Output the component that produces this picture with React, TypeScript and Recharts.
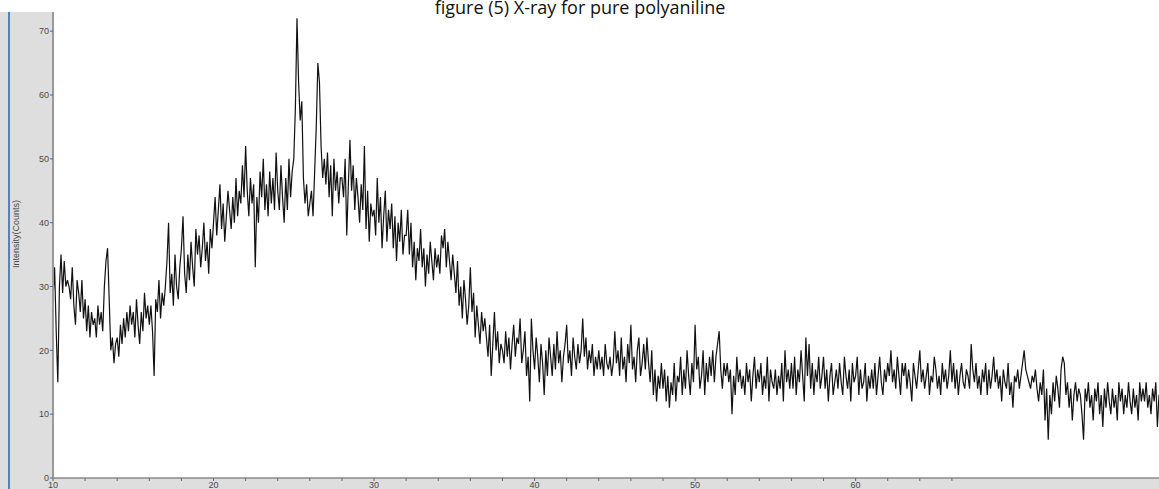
import { LineChart, Line, XAxis, YAxis } from "recharts";

// diffraction angle runs 10.0 .. 78.9 deg in 0.1 deg steps, one row per degree
const angleStart = 10;
const angleStep = 0.1;

const counts10to29 = [
  28, 33, 23, 15, 30, 35, 29, 34, 30, 31,
  30, 28, 33, 27, 24, 31, 29, 26, 31, 25,
  28, 23, 27, 22, 26, 24, 25, 22, 27, 24,
  26, 23, 30, 34, 36, 28, 20, 22, 18, 21,
  22, 19, 24, 21, 25, 22, 26, 23, 27, 24,
  26, 22, 28, 24, 21, 26, 23, 29, 25, 27,
  24, 27, 23, 16, 28, 26, 31, 25, 29, 27,
  30, 34, 40, 29, 32, 27, 35, 30, 28, 33,
  36, 41, 32, 29, 35, 31, 37, 33, 30, 39,
  35, 38, 33, 36, 40, 34, 37, 32, 39, 36,
  40, 44, 38, 42, 46, 39, 43, 37, 41, 45,
  42, 39, 44, 40, 47, 41, 45, 43, 49, 44,
  52, 45, 41, 47, 43, 46, 33, 44, 40, 48,
  44, 50, 42, 46, 41, 48, 43, 47, 42, 51,
  45, 42, 49, 44, 40, 47, 42, 50, 44, 48,
  50, 58, 72, 62, 56, 59, 47, 43, 46, 41,
  43, 45, 41, 48, 55, 65, 62, 52, 47, 50,
  46, 51, 44, 49, 41, 50, 45, 48, 43, 47,
  47, 44, 50, 38, 46, 53, 45, 49, 42, 47,
  44, 40, 46, 42, 52, 39, 45, 37, 43, 41,
];

const counts30to49 = [
  42, 38, 47, 40, 44, 36, 41, 45, 37, 42,
  39, 43, 36, 41, 34, 40, 37, 42, 35, 38,
  38, 42, 35, 40, 33, 37, 31, 36, 34, 39,
  33, 36, 30, 35, 32, 37, 34, 31, 36, 33,
  35, 32, 38, 36, 39, 33, 37, 34, 31, 35,
  32, 29, 34, 27, 30, 25, 31, 28, 24, 27,
  33, 26, 29, 22, 27, 24, 21, 26, 23, 25,
  22, 19, 24, 16, 21, 26, 20, 23, 18, 21,
  20, 18, 23, 19, 22, 17, 21, 24, 19, 22,
  21, 25, 18, 20, 23, 16, 19, 12, 25, 20,
  17, 22, 19, 15, 21, 18, 13, 20, 16, 22,
  19, 16, 21, 17, 23, 18, 20, 15, 19, 21,
  24, 18, 20, 16, 22, 19, 17, 21, 18, 20,
  25, 19, 22, 17, 20, 18, 21, 16, 19, 17,
  20, 17, 19, 16, 21, 18, 17, 19, 16, 18,
  23, 18, 20, 16, 22, 17, 19, 15, 21, 18,
  24, 17, 19, 15, 20, 22, 16, 18, 21, 17,
  22, 18, 15, 20, 13, 17, 12, 16, 14, 18,
  14, 17, 12, 16, 11, 15, 13, 18, 12, 16,
  15, 19, 13, 17, 14, 20, 16, 13, 18, 15,
];

const counts50to78 = [
  24, 17, 19, 14, 16, 20, 13, 18, 15, 19,
  16, 20, 15, 19, 21, 23, 17, 14, 18, 16,
  18, 15, 17, 10, 16, 13, 19, 15, 17, 14,
  16, 13, 18, 15, 17, 12, 16, 19, 14, 17,
  15, 18, 13, 16, 14, 19, 12, 17, 15, 14,
  17, 13, 16, 14, 18, 12, 20, 15, 17, 14,
  18, 14, 19, 13, 17, 15, 20, 16, 12, 22,
  16, 21, 14, 18, 13, 17, 15, 19, 14, 16,
  19, 14, 17, 12, 16, 18, 13, 15, 17, 14,
  18, 15, 13, 19, 16, 14, 17, 12, 18, 15,
  16, 19, 13, 17, 14, 15, 18, 12, 16, 14,
  17, 14, 18, 13, 16, 19, 15, 13, 17, 15,
  18, 16, 20, 15, 17, 14, 19, 16, 13, 18,
  16, 18, 14, 17, 15, 12, 18, 16, 14, 17,
  20, 15, 17, 14, 16, 18, 13, 16, 15, 19,
  17, 14, 16, 13, 18, 15, 17, 14, 16, 20,
  15, 18, 14, 17, 13, 16, 18, 15, 14, 17,
  16, 14, 21, 17, 15, 18, 14, 16, 13, 17,
  15, 18, 13, 17, 14, 16, 19, 15, 17, 14,
  16, 12, 17, 15, 14, 18, 13, 15, 11, 16,
  15, 17, 14, 16, 18, 20, 17, 16, 15, 14,
  16, 15, 17, 14, 12, 15, 13, 17, 9, 14,
  6, 13, 10, 15, 12, 16, 14, 11, 17, 19,
  18, 13, 15, 11, 14, 9, 13, 15, 12, 14,
  13, 10, 6, 14, 12, 15, 11, 13, 9, 14,
  12, 15, 10, 13, 8, 14, 11, 15, 12, 10,
  14, 11, 13, 9, 15, 12, 14, 10, 13, 11,
  15, 12, 10, 14, 11, 13, 9, 15, 12, 14,
  12, 15, 11, 13, 10, 14, 12, 15, 8, 13,
];

const xTicks = [10, 12, 14, 16, 18, 20, 22, 24, 26, 28, 30, 32, 34, 36, 38, 40, 42, 44, 46, 48, 50, 52, 54, 56, 58, 60, 62, 64, 66];
const yTicks = [0, 10, 20, 30, 40, 50, 60, 70];
const title = "figure (5) X-ray for pure polyaniline";
const yLabel = "Intensity(Counts)";

const allCounts = [...counts10to29, ...counts30to49, ...counts50to78];
const data = allCounts.map((c, i) => ({
  angle: Math.round((angleStart + i * angleStep) * 10) / 10,
  counts: c,
}));

const W = 1159;
const H = 489;
const panelGray = "#dedede";
const smallFont = "'Liberation Sans', Arial, sans-serif";
const tickFont = { fontSize: 9, fill: "#4a4a4a", fontFamily: smallFont };

export default function App() {
  return (
    <div style={{ position: "absolute", left: 0, top: 0, width: W, height: H, background: "#fff", overflow: "hidden" }}>
      {/* grey frame like the instrument software */}
      <div style={{ position: "absolute", left: 0, top: 12, width: 53, height: H - 12, background: panelGray }} />
      <div style={{ position: "absolute", left: 0, top: 478, width: W, height: H - 478, background: panelGray }} />
      <div style={{ position: "absolute", left: 8, top: 12, width: 2, height: H - 12, background: "#4a84c6" }} />

      <div style={{ position: "absolute", left: 0, top: 0 }}>
        <LineChart width={W} height={H} data={data} margin={{ top: 12, right: 0, left: 0, bottom: 0 }}>
          <XAxis
            dataKey="angle"
            type="number"
            domain={[10, 78.9]}
            ticks={xTicks}
            interval={0}
            height={11}
            tickSize={3}
            tickMargin={1}
            tick={tickFont}
            tickFormatter={(v: number) => (v % 10 === 0 ? String(v) : "")}
            axisLine={{ stroke: "#8a8a8a", strokeWidth: 1.5 }}
            tickLine={{ stroke: "#666" }}
            allowDataOverflow
          />
          <YAxis
            type="number"
            domain={[0, 73]}
            ticks={yTicks}
            interval={0}
            width={53}
            tickSize={3}
            tickMargin={1}
            tick={tickFont}
            axisLine={{ stroke: "#9a9a9a", strokeWidth: 2 }}
            tickLine={{ stroke: "#666" }}
          />
          <Line
            type="linear"
            dataKey="counts"
            stroke="#111"
            strokeWidth={1.2}
            dot={false}
            isAnimationActive={false}
          />
        </LineChart>
      </div>

      <svg style={{ position: "absolute", left: 0, top: 0 }} width={W} height={H} pointerEvents="none">
        <text x={580} y={14} textAnchor="middle" fontSize={18} fill="#111" fontFamily="'Open Sans', 'Noto Sans', sans-serif">
          {title}
        </text>
        <text
          x={16}
          y={234}
          transform="rotate(-90, 16, 234)"
          textAnchor="middle"
          dominantBaseline="central"
          fontSize={9}
          fill="#4a4a4a"
          fontFamily={smallFont}
        >
          {yLabel}
        </text>
      </svg>
    </div>
  );
}
